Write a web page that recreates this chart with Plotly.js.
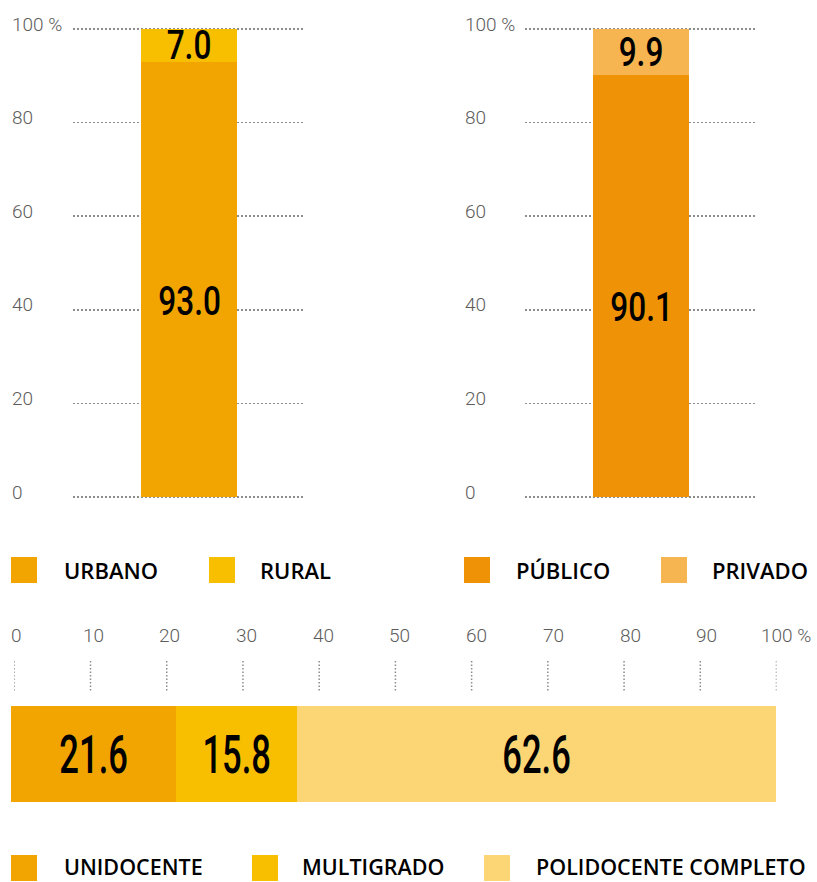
<!DOCTYPE html>
<html>
<head>
<meta charset="utf-8">
<script src="https://cdn.plot.ly/plotly-3.0.1.min.js"></script>
<style>html,body{margin:0;padding:0;background:#fff}#chart{width:817px;height:882px}</style>
</head>
<body>
<div id="chart"></div>
<script>
// ---- data ----
const areaCats = ['URBANO', 'RURAL'];
const areaValues = [93.0, 7.0];
const areaColors = ['#F2A500', '#F8BE00'];

const sectorCats = ['PÚBLICO', 'PRIVADO'];
const sectorValues = [90.1, 9.9];
const sectorColors = ['#F09205', '#F6B550'];

const typeCats = ['UNIDOCENTE', 'MULTIGRADO', 'POLIDOCENTE COMPLETO'];
const typeValues = [21.6, 15.8, 62.6];
const typeColors = ['#F2A500', '#F8BE00', '#FCD574'];

const yTickVals = [0, 20, 40, 60, 80, 100];
const yTickText = ['0', '20', '40', '60', '80', '100 %'];
const xTickVals = [0, 10, 20, 30, 40, 50, 60, 70, 80, 90, 100];
const xTickText = ['0', '10', '20', '30', '40', '50', '60', '70', '80', '90', '100 %'];

// ---- layout helpers ----
const W = 817, H = 882;
const px = v => v / W;
const py = v => 1 - v / H;

const numFamily = 'Roboto, "DejaVu Sans Condensed", sans-serif';
const numWeight = 500;
const tickFont = {family: 'Roboto, sans-serif', size: 19, color: '#5c5c5c', weight: 300};
const legendFont = {family: '"Open Sans", sans-serif', size: 22, color: '#000', weight: 600};
const bigTop = 41, bigBottom = 54;

const traces = [];
// vertical stacked bars; the first (large) segment gets its label as an annotation
function addVertical(cats, values, colors, xa, ya) {
  cats.forEach((c, i) => traces.push({
    type: 'bar', x: ['a'], y: [values[i]], name: c, xaxis: xa, yaxis: ya,
    marker: {color: colors[i]}, width: 0.414,
    texttemplate: i === 0 ? '' : '%{y:.1f}', textposition: 'inside', insidetextanchor: 'middle',
    constraintext: 'none', textfont: {family: numFamily, size: bigTop, color: '#000', weight: numWeight},
    hoverinfo: 'skip', showlegend: false
  }));
}
addVertical(areaCats, areaValues, areaColors, 'x', 'y');
addVertical(sectorCats, sectorValues, sectorColors, 'x2', 'y2');

typeCats.forEach((c, i) => traces.push({
  type: 'bar', orientation: 'h', y: ['a'], x: [typeValues[i]], name: c, xaxis: 'x3', yaxis: 'y3',
  marker: {color: typeColors[i]}, width: 1,
  texttemplate: '%{x:.1f}', textposition: 'inside', insidetextanchor: 'middle',
  constraintext: 'none', textfont: {family: numFamily, size: bigBottom, color: '#000', weight: numWeight},
  hoverinfo: 'skip', showlegend: false
}));
// helper axis for the percentage ticks above the horizontal bar
traces.push({type: 'scatter', mode: 'markers', x: [], y: [], xaxis: 'x4', yaxis: 'y3',
             hoverinfo: 'skip', showlegend: false});

const pxPerUnit = 4.68, pad = 5;
const vAxis = () => ({
  domain: [py(497 + pad), py(29 - pad)], range: [-pad / pxPerUnit, 100 + pad / pxPerUnit],
  tickvals: yTickVals, showticklabels: false,
  showgrid: true, gridcolor: '#8c8c8c', gridwidth: 1.6, griddash: '1.6px,2.4px',
  zeroline: false, showline: false, ticks: '', fixedrange: true
});
const catAxis = dom => ({
  domain: dom, type: 'category', range: [-0.5, 0.5], showticklabels: false,
  showgrid: false, zeroline: false, showline: false, ticks: '', fixedrange: true
});

const annotations = [];
const shapes = [];

// big labels of the vertical bars
[[areaValues, 'x', 'y'], [sectorValues, 'x2', 'y2']].forEach(([vals, xr, yr]) => {
  annotations.push({
    xref: xr, yref: yr, x: 'a', y: vals[0] * 0.45, text: vals[0].toFixed(1),
    showarrow: false, xanchor: 'center', yanchor: 'middle',
    font: {family: numFamily, size: bigTop, color: '#000', weight: numWeight}
  });
});

// y tick labels (left aligned)
[[10, 'y'], [463, 'y2']].forEach(([xp, yref]) => {
  yTickVals.forEach((v, i) => annotations.push({
    xref: 'paper', yref: yref, x: px(xp), y: v, xanchor: 'left', yanchor: 'middle',
    text: yTickText[i], showarrow: false, font: tickFont, yshift: 5
  }));
});

// bottom x ticks: labels and dotted tick marks
xTickVals.forEach((v, i) => {
  const last = i === xTickVals.length - 1;
  annotations.push({
    xref: 'x4', yref: 'paper', x: v, y: py(635), xanchor: last ? 'left' : 'center',
    xshift: last ? -18 : 2 + 0.5 * i,
    yanchor: 'middle', text: xTickText[i], showarrow: false, font: tickFont
  });
  shapes.push({
    type: 'line', xref: 'x4', yref: 'paper', x0: v, x1: v, y0: py(661), y1: py(691),
    line: {color: '#8c8c8c', width: 1.5, dash: '1.5px,2px'}
  });
});

// custom legends
const legendItems = [
  {cats: areaCats, colors: areaColors, sq: [11, 209], tx: [62, 258], y: 570, ty: 570, fs: 22},
  {cats: sectorCats, colors: sectorColors, sq: [464, 661], tx: [514, 710], y: 570, ty: 570, fs: 22},
  {cats: typeCats, colors: typeColors, sq: [11, 252, 484], tx: [62, 300, 534], y: 868, ty: 866, fs: 21.5}
];
legendItems.forEach(g => {
  g.cats.forEach((c, i) => {
    shapes.push({
      type: 'rect', xref: 'paper', yref: 'paper',
      x0: px(g.sq[i]), x1: px(g.sq[i] + 26), y0: py(g.y - 13), y1: py(g.y + 13),
      fillcolor: g.colors[i], line: {width: 0}
    });
    annotations.push({
      xref: 'paper', yref: 'paper', x: px(g.tx[i]), y: py(g.ty), xanchor: 'left', yanchor: 'middle',
      text: c, showarrow: false, font: Object.assign({}, legendFont, {size: g.fs})
    });
  });
});

const layout = {
  width: W, height: H, margin: {l: 0, r: 0, t: 0, b: 0},
  paper_bgcolor: '#fff', plot_bgcolor: 'rgba(0,0,0,0)',
  barmode: 'stack', bargap: 0, showlegend: false,
  xaxis: catAxis([px(73), px(305)]),
  yaxis: vAxis(),
  xaxis2: Object.assign(catAxis([px(525), px(757)]), {anchor: 'y2'}),
  yaxis2: Object.assign(vAxis(), {anchor: 'x2'}),
  xaxis3: {domain: [px(11), px(776)], range: [0, 100], anchor: 'y3', showticklabels: false,
           showgrid: false, zeroline: false, showline: false, ticks: '', fixedrange: true},
  yaxis3: Object.assign(catAxis([py(802), py(706)]), {anchor: 'x3'}),
  xaxis4: {domain: [px(14.3), px(776.5)], range: [0, 100], anchor: 'y3', showticklabels: false,
           showgrid: false, zeroline: false, showline: false, ticks: '', fixedrange: true},
  annotations: annotations, shapes: shapes
};

// narrow the large number glyphs to mimic the condensed face of the original
function condense(el, ratio) {
  const len = el.getComputedTextLength();
  if (len > 0) {
    el.setAttribute('textLength', (len * ratio).toFixed(1));
    el.setAttribute('lengthAdjust', 'spacingAndGlyphs');
  }
}

Plotly.newPlot('chart', traces, layout, {displayModeBar: false, staticPlot: true}).then(gd => {
  gd.querySelectorAll('text').forEach(t => {
    const fs = parseFloat(t.style.fontSize || '0');
    if (fs >= bigBottom) condense(t, 0.64);
    else if (fs >= bigTop) condense(t, 0.77);
  });
});
</script>
</body>
</html>
